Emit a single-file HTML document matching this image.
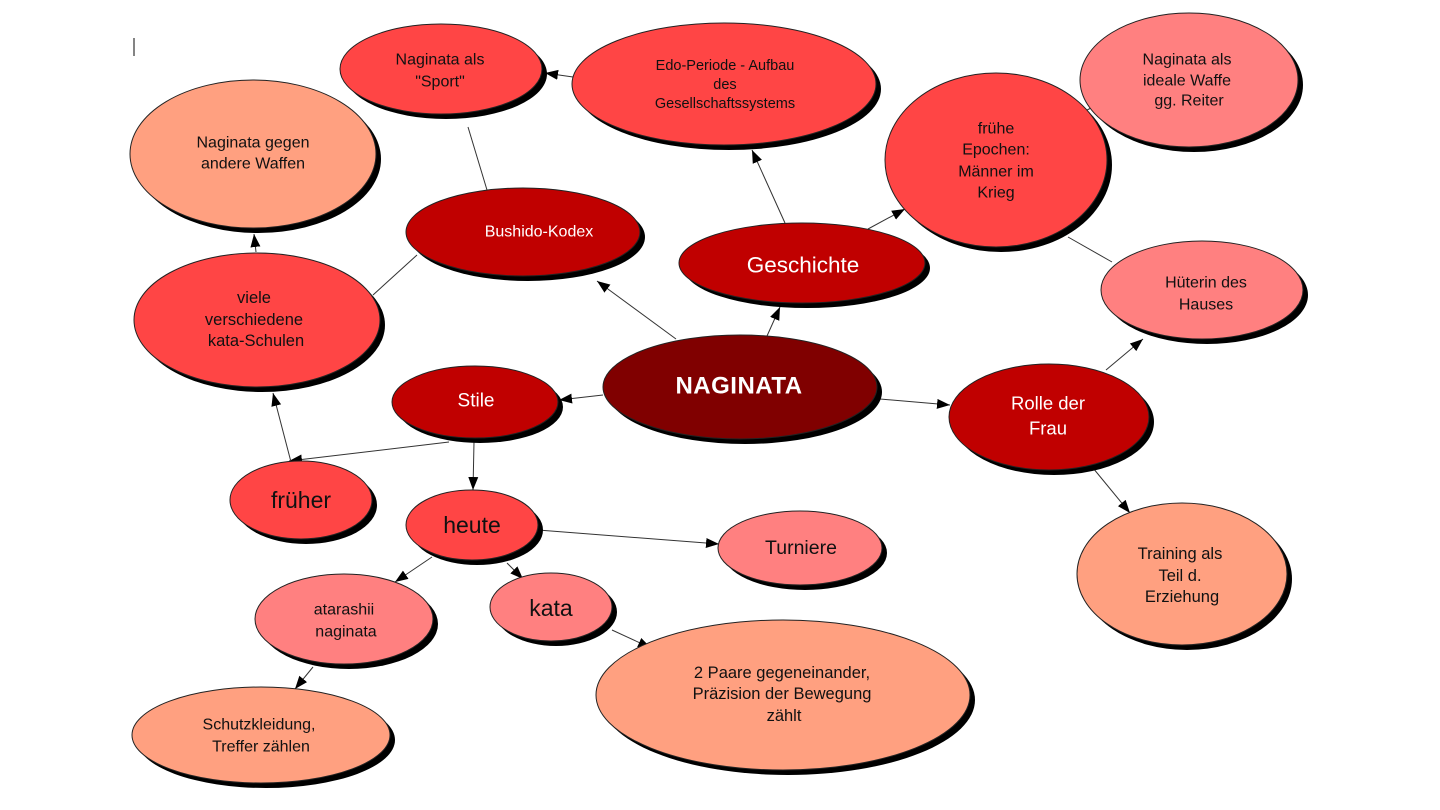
<!DOCTYPE html>
<html>
<head>
<meta charset="utf-8">
<style>
html,body{margin:0;padding:0;background:#fff;}
svg{display:block;}
text{font-family:"Liberation Sans",Arial,sans-serif;text-anchor:middle;dominant-baseline:central;}
.d{fill:#111;}
.w{fill:#fff;}
.ln{stroke:#333;stroke-width:1;fill:none;}
.ar{stroke:#333;stroke-width:1;fill:none;marker-end:url(#ah);}
</style>
</head>
<body>
<svg width="1440" height="810" viewBox="0 0 1440 810" xmlns="http://www.w3.org/2000/svg">
<defs>
<marker id="ah" markerUnits="userSpaceOnUse" markerWidth="14" markerHeight="12" refX="13" refY="5" orient="auto">
<path d="M0,0 L13,5 L0,10 Z" fill="#000"/>
</marker>
</defs>
<rect width="1440" height="810" fill="#fff"/>
<line x1="134" y1="38" x2="134" y2="56" stroke="#333" stroke-width="1.2"/>

<!-- connectors -->
<line class="ar" x1="573" y1="77" x2="545" y2="73"/>
<line class="ln" x1="487" y1="190" x2="468" y2="127"/>
<line class="ln" x1="417" y1="255" x2="373" y2="295"/>
<line class="ar" x1="256" y1="252" x2="254" y2="234"/>
<line class="ar" x1="676" y1="339" x2="597" y2="281"/>
<line class="ar" x1="767" y1="336" x2="780" y2="307"/>
<line class="ar" x1="785" y1="223" x2="752" y2="150"/>
<line class="ar" x1="868" y1="229" x2="905" y2="209"/>
<line class="ln" x1="1068" y1="237" x2="1112" y2="262"/>
<line class="ln" x1="1068" y1="120" x2="1112" y2="97"/>
<line class="ar" x1="1106" y1="370" x2="1143" y2="339"/>
<line class="ar" x1="1093" y1="468" x2="1130" y2="513"/>
<line class="ar" x1="880" y1="399" x2="950" y2="405"/>
<line class="ar" x1="603" y1="395" x2="559" y2="400"/>
<line class="ar" x1="449" y1="442" x2="289" y2="461"/>
<line class="ar" x1="474" y1="442" x2="473" y2="490"/>
<line class="ar" x1="291" y1="462" x2="273" y2="393"/>
<line class="ar" x1="538" y1="530" x2="719" y2="544"/>
<line class="ar" x1="432" y1="557" x2="395" y2="582"/>
<line class="ar" x1="507" y1="563" x2="523" y2="579"/>
<line class="ar" x1="313" y1="667" x2="295" y2="689"/>
<line class="ar" x1="612" y1="630" x2="651" y2="648"/>

<!-- nodes: shadow then fill -->
<g stroke="#222" stroke-width="1">
<ellipse cx="446" cy="74" rx="101" ry="45" fill="#000" stroke="none"/>
<ellipse cx="441" cy="69" rx="101" ry="45" fill="#FF4545"/>
<ellipse cx="258" cy="159" rx="123" ry="74" fill="#000" stroke="none"/>
<ellipse cx="253" cy="154" rx="123" ry="74" fill="#FFA080"/>
<ellipse cx="729" cy="89" rx="152" ry="61" fill="#000" stroke="none"/>
<ellipse cx="724" cy="84" rx="152" ry="61" fill="#FF4545"/>
<ellipse cx="1001" cy="165" rx="111" ry="87" fill="#000" stroke="none"/>
<ellipse cx="996" cy="160" rx="111" ry="87" fill="#FF4545"/>
<ellipse cx="1194" cy="85" rx="109" ry="67" fill="#000" stroke="none"/>
<ellipse cx="1189" cy="80" rx="109" ry="67" fill="#FF8080"/>
<ellipse cx="528" cy="237" rx="117" ry="44" fill="#000" stroke="none"/>
<ellipse cx="523" cy="232" rx="117" ry="44" fill="#C00000"/>
<ellipse cx="807" cy="268" rx="123" ry="40" fill="#000" stroke="none"/>
<ellipse cx="802" cy="263" rx="123" ry="40" fill="#C00000"/>
<ellipse cx="1207" cy="295" rx="101" ry="49" fill="#000" stroke="none"/>
<ellipse cx="1202" cy="290" rx="101" ry="49" fill="#FF8080"/>
<ellipse cx="262" cy="325" rx="123" ry="67" fill="#000" stroke="none"/>
<ellipse cx="257" cy="320" rx="123" ry="67" fill="#FF4545"/>
<ellipse cx="480" cy="407" rx="83" ry="36" fill="#000" stroke="none"/>
<ellipse cx="475" cy="402" rx="83" ry="36" fill="#C00000"/>
<ellipse cx="745" cy="392" rx="137" ry="52" fill="#000" stroke="none"/>
<ellipse cx="740" cy="387" rx="137" ry="52" fill="#800000"/>
<ellipse cx="1054" cy="422" rx="100" ry="53" fill="#000" stroke="none"/>
<ellipse cx="1049" cy="417" rx="100" ry="53" fill="#C00000"/>
<ellipse cx="306" cy="505" rx="71" ry="39" fill="#000" stroke="none"/>
<ellipse cx="301" cy="500" rx="71" ry="39" fill="#FF4545"/>
<ellipse cx="477" cy="530" rx="66" ry="35" fill="#000" stroke="none"/>
<ellipse cx="472" cy="525" rx="66" ry="35" fill="#FF4545"/>
<ellipse cx="805" cy="553" rx="82" ry="37" fill="#000" stroke="none"/>
<ellipse cx="800" cy="548" rx="82" ry="37" fill="#FF8080"/>
<ellipse cx="349" cy="624" rx="89" ry="45" fill="#000" stroke="none"/>
<ellipse cx="344" cy="619" rx="89" ry="45" fill="#FF8080"/>
<ellipse cx="556" cy="612" rx="61" ry="34" fill="#000" stroke="none"/>
<ellipse cx="551" cy="607" rx="61" ry="34" fill="#FF8080"/>
<ellipse cx="266" cy="740" rx="129" ry="48" fill="#000" stroke="none"/>
<ellipse cx="261" cy="735" rx="129" ry="48" fill="#FFA080"/>
<ellipse cx="788" cy="700" rx="187" ry="75" fill="#000" stroke="none"/>
<ellipse cx="783" cy="695" rx="187" ry="75" fill="#FFA080"/>
<ellipse cx="1187" cy="579" rx="105" ry="71" fill="#000" stroke="none"/>
<ellipse cx="1182" cy="574" rx="105" ry="71" fill="#FFA080"/>
</g>

<!-- labels -->
<g font-size="16">
<text class="d" x="440" y="60">Naginata als</text>
<text class="d" x="440" y="82">"Sport"</text>
<text class="d" x="253" y="143">Naginata gegen</text>
<text class="d" x="253" y="164">andere Waffen</text>
<text class="d" x="725" y="66" font-size="14.5">Edo-Periode - Aufbau</text>
<text class="d" x="725" y="85" font-size="14.5">des</text>
<text class="d" x="725" y="104" font-size="14.5">Gesellschaftssystems</text>
<text class="d" x="996" y="129">frühe</text>
<text class="d" x="996" y="150">Epochen:</text>
<text class="d" x="996" y="172">Männer im</text>
<text class="d" x="996" y="193">Krieg</text>
<text class="d" x="1187" y="60">Naginata als</text>
<text class="d" x="1187" y="81">ideale Waffe</text>
<text class="d" x="1189" y="101">gg. Reiter</text>
<text class="w" x="539" y="232">Bushido-Kodex</text>
<text class="w" x="803" y="265" font-size="22.5">Geschichte</text>
<text class="d" x="1206" y="283">Hüterin des</text>
<text class="d" x="1206" y="305">Hauses</text>
<text class="d" x="254" y="298" font-size="16.5">viele</text>
<text class="d" x="254" y="320" font-size="16.5">verschiedene</text>
<text class="d" x="256" y="341" font-size="16.5">kata-Schulen</text>
<text class="w" x="739" y="386" font-size="24" font-weight="bold" letter-spacing="0.5">NAGINATA</text>
<text class="w" x="476" y="401" font-size="19">Stile</text>
<text class="w" x="1048" y="403" font-size="18.5">Rolle der</text>
<text class="w" x="1048" y="428" font-size="18.5">Frau</text>
<text class="d" x="301" y="500" font-size="23">früher</text>
<text class="d" x="472" y="525" font-size="23">heute</text>
<text class="d" x="801" y="548" font-size="19.5">Turniere</text>
<text class="d" x="344" y="610">atarashii</text>
<text class="d" x="346" y="632">naginata</text>
<text class="d" x="551" y="608" font-size="23">kata</text>
<text class="d" x="259" y="725">Schutzkleidung,</text>
<text class="d" x="261" y="747">Treffer zählen</text>
<text class="d" x="782" y="673" font-size="16.5">2 Paare gegeneinander,</text>
<text class="d" x="782" y="694" font-size="16.5">Präzision der Bewegung</text>
<text class="d" x="784" y="716" font-size="16.5">zählt</text>
<text class="d" x="1180" y="554" font-size="16.5">Training als</text>
<text class="d" x="1180" y="576" font-size="16.5">Teil d.</text>
<text class="d" x="1182" y="597" font-size="16.5">Erziehung</text>
</g>
</svg>
</body>
</html>
